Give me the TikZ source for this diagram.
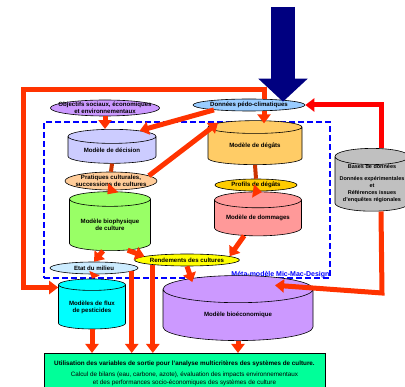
\documentclass[tikz,border=0pt]{standalone}
\usepackage{fontspec}
\setmainfont{Liberation Sans}
\usetikzlibrary{shapes.geometric,arrows.meta}

\definecolor{cnavy}{HTML}{000080}
\definecolor{cfleche}{HTML}{FF3300}
\definecolor{crouge}{HTML}{FF0000}
\definecolor{clien}{HTML}{CC3300}
\definecolor{cobj}{HTML}{CC99FF}
\definecolor{cpedo}{HTML}{99CCFF}
\definecolor{cdec}{HTML}{CCCCFF}
\definecolor{cprat}{HTML}{FFCC99}
\definecolor{cbio}{HTML}{99FF66}
\definecolor{cdeg}{HTML}{FFCC66}
\definecolor{cprof}{HTML}{FFCC00}
\definecolor{cdom}{HTML}{FF9999}
\definecolor{crend}{HTML}{FFFF00}
\definecolor{cetat}{HTML}{CCECFF}
\definecolor{cflux}{HTML}{00FFFF}
\definecolor{cbioeco}{HTML}{CC99FF}
\definecolor{cbases}{HTML}{C0C0C0}
\definecolor{cfinal}{HTML}{00FF99}

\tikzset{
  box/.style={draw, line width=0.6pt, text=black, align=center, inner sep=0pt,
    font=\bfseries\fontsize{6.1}{7.2}\selectfont},
  oval/.style={box, ellipse},
  drum/.style={box, cylinder, shape border rotate=90, aspect=0.25},
  arr/.style={draw=cfleche, line width=5pt, -{Triangle[length=9pt,width=13pt]}},
  lien/.style={draw=clien, line width=4pt},
  metabox/.style={draw=blue, line width=1.4pt, dash pattern=on 6pt off 3pt},
}

\begin{document}
\begin{tikzpicture}[x=1pt,y=-1pt]
\useasboundingbox (0,0) rectangle (405,387);

% cadre du meta-modele
\node[metabox, minimum width=286pt, minimum height=156pt] (meta) at (187,200) {};
\node[anchor=south east, inner sep=1pt, text=blue, font=\bfseries\fontsize{7}{8}\selectfont] (metalab) at (meta.south east) {Méta-modèle Mic-Mac-Design};

% entrees
\node[oval, fill=cobj, minimum width=105pt, minimum height=16pt, inner xsep=-8pt, inner ysep=-1pt] (obj) at (105,108) {Objectifs sociaux, économiques\\et environnementaux};
\node[oval, fill=cpedo, minimum width=112pt, minimum height=12pt] (pedo) at (249,105) {Données pédo-climatiques};
\node[drum, fill=cbases, minimum width=74pt, minimum height=58pt, font=\bfseries\fontsize{5.5}{7}\selectfont] (bases) at (372,184) {Bases de données\\[5pt]Données expérimentales\\et\\Références issues\\d'enquêtes régionales};

% modeles du meta-modele
\node[drum, fill=cdec, minimum width=88pt, minimum height=34pt] (dec) at (112,150) {Modèle de décision};
\node[oval, fill=cprat, minimum width=92pt, minimum height=18pt, inner xsep=-5pt, inner ysep=-1pt] (prat) at (111,181) {Pratiques culturales,\\successions de cultures};
\node[drum, fill=cbio, minimum width=81pt, minimum height=59pt] (bio) at (110,225) {Modèle biophysique\\de culture};
\node[drum, fill=cdeg, minimum width=94pt, minimum height=44pt] (deg) at (255,146) {Modèle de dégâts};
\node[oval, fill=cprof, minimum width=82pt, minimum height=12pt] (prof) at (256,185) {Profils de dégâts};
\node[drum, fill=cdom, minimum width=87pt, minimum height=44pt] (dom) at (258,218) {Modèle de dommages};
\node[oval, fill=crend, minimum width=105pt, minimum height=12pt] (rend) at (187,260) {Rendements des cultures};
\node[oval, fill=cetat, minimum width=88pt, minimum height=12pt] (etat) at (94,268) {Etat du milieu};

% modeles en aval
\node[drum, fill=cflux, minimum width=67pt, minimum height=50pt] (flux) at (92,307) {Modèles de flux\\de pesticides};
\node[drum, fill=cbioeco, minimum width=150pt, minimum height=65pt, aspect=0.4] (bioeco) at (238,315) {Modèle bioéconomique};
\node[draw, line width=0.8pt, fill=cfinal, anchor=north, minimum width=281pt, minimum height=40pt,
  align=center, inner sep=2pt, font=\fontsize{6.3}{8}\selectfont] (final) at (184.5,353)
  {\textbf{Utilisation des variables de sortie pour l'analyse multicritères des systèmes de culture.}\\[3pt]
   Calcul de bilans (eau, carbone, azote), évaluation des impacts environnementaux\\
   et des performances socio-économiques des systèmes de culture};

% points de passage
\coordinate (src) at (283,7);
\coordinate (tr) at (264,90);
\coordinate (tl) at (23,90);
\coordinate (rt) at (381,105);
\coordinate (rb) at (382,293);

% liens
\draw[crouge, line width=5pt, -{Triangle[length=9pt,width=13pt]}] (rt |- bases.north) -- (rt) -- (pedo.east);
\draw[arr] (rt |- bases.south) -- (rb) -- ([shift={(37,10)}]bioeco.top);
\draw[arr] (tr |- pedo.north) -- (tr) -- (tl) |- (flux.150);
\draw[arr, shorten >=-3pt] (tr |- pedo.south) -- (tr |- deg.top);
\draw[arr] (obj.south) -- (obj.south |- dec.top);
\draw[arr] (pedo.188) -- (dec.35);
\draw[lien] (dec.bottom) -- (prat.north);
\draw[arr, shorten >=-4pt] (prat.south) -- (bio.top);
\draw[arr] (prat.8) -- (deg.148);
\draw[lien] (deg.bottom) -- (prof.north);
\draw[arr, shorten >=-4pt] (prof.south) -- (dom.top);
\draw[arr] (dom.232) -- (rend.5);
\draw[arr] (bio.255) -- (etat.north);
\draw[arr] (bio.305) -- (rend.175);
\draw[arr, -{Triangle[length=6pt,width=11pt]}] (etat.south) -- (flux.top);
\draw[arr] (etat.-5) -- (etat.-5 |- final.north);
\draw[arr] (rend.188) -- (rend.188 |- final.north);
\draw[arr, shorten >=-4pt] (rend.south) -- (bioeco.142);
\draw[arr] (flux.bottom) -- (flux.bottom |- final.north);
\draw[arr] (bioeco.bottom) -- (bioeco.bottom |- final.north);
\draw[cnavy, line width=24pt, shorten >=-3pt, -{Triangle[length=23pt,width=48pt]}] (src) -- (src |- pedo.north);
\end{tikzpicture}
\end{document}
